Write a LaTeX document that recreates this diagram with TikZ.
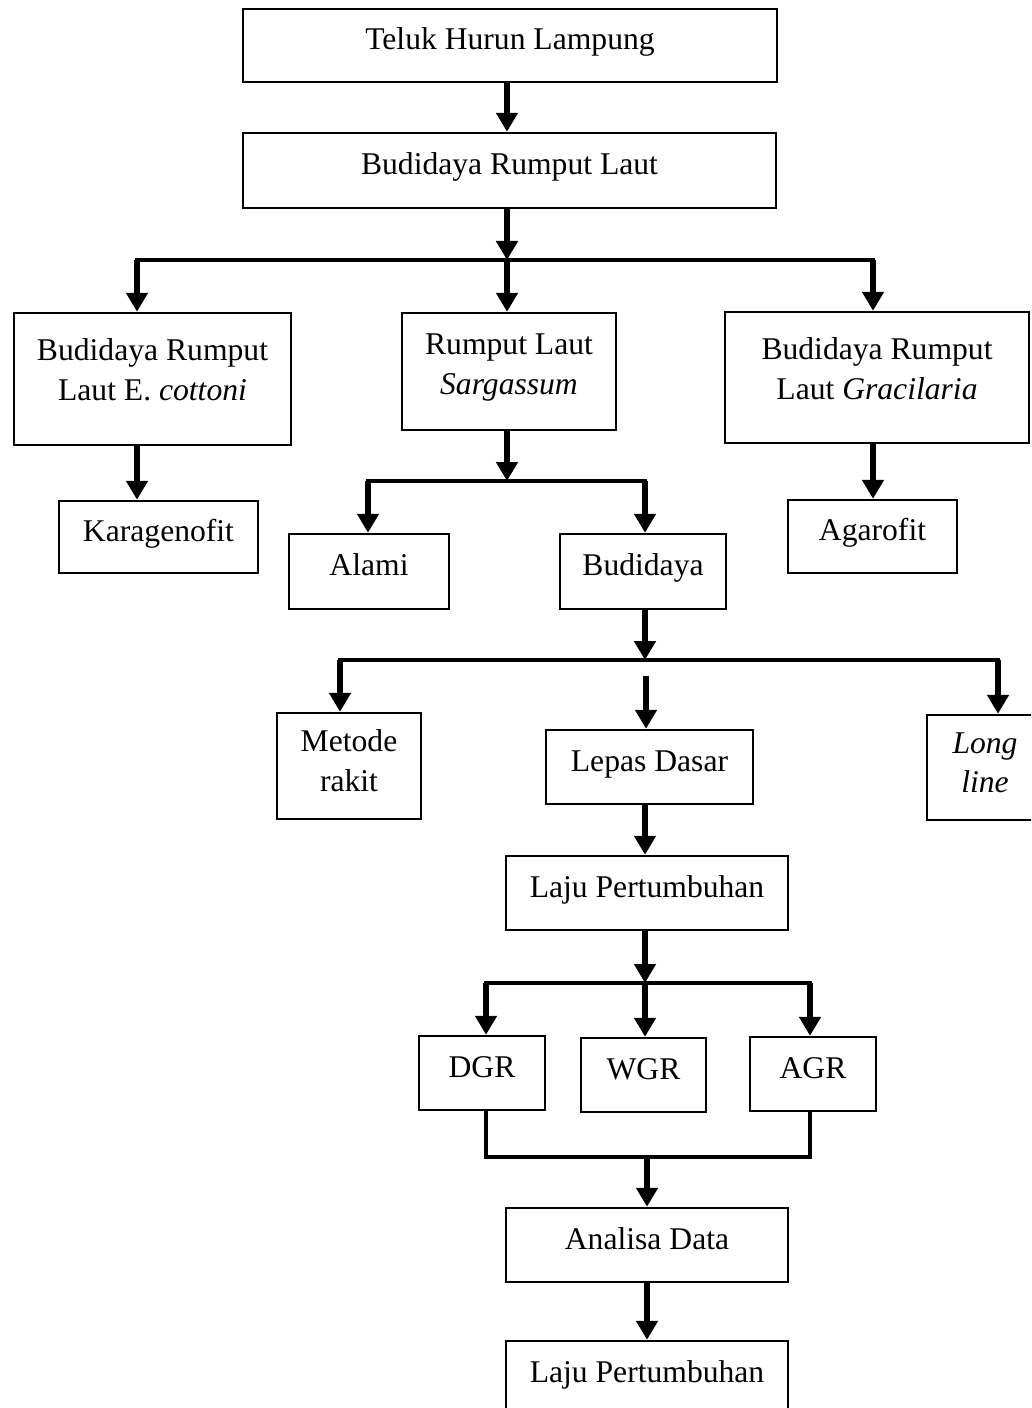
\documentclass[tikz,border=0pt]{standalone}
\usepackage{fontspec}
\setmainfont{Liberation Serif}
\usetikzlibrary{arrows.meta}
\tikzset{
  kotak/.style={draw, line width=1.4pt, align=center, inner sep=0pt, text height=0.7em, text depth=0.44em},
  dua/.style={text height=1.96em, text depth=#1},
  dua/.default=0.6em,
  panah/.style={line width=3.6pt, -{Triangle[width=0.42cm,length=0.38cm]}},
  garis/.style={line width=2.3pt, line cap=rect},
  gabung/.style={line width=1.8pt, line cap=rect, line join=miter},
}
\begin{document}
\begin{tikzpicture}[x=0.02cm,y=-0.02cm]
\fontsize{18}{22.7}\selectfont
\useasboundingbox (0,0) rectangle (1031,1408);
\clip (0,0) rectangle (1031,1408);
% kotak
\node[kotak,minimum width=10.68cm,minimum height=1.46cm] (teluk) at (510,45.5) {Teluk Hurun Lampung};
\node[kotak,minimum width=10.66cm,minimum height=1.5cm] (budi) at (509.5,170.5) {Budidaya Rumput Laut};
\node[kotak,dua,minimum width=5.54cm,minimum height=2.64cm] (cottoni) at (152.5,379) {Budidaya Rumput\\Laut E. \textit{cottoni}};
\node[kotak,dua=0.5em,minimum width=4.28cm,minimum height=2.34cm] (sarg) at (509,371.5) {Rumput Laut\\\textit{Sargassum}};
\node[kotak,dua,minimum width=6.08cm,minimum height=2.62cm] (graci) at (877,377.5) {Budidaya Rumput\\Laut \textit{Gracilaria}};
\node[kotak,minimum width=3.98cm,minimum height=1.44cm] (karag) at (158.5,537) {Karagenofit};
\node[kotak,minimum width=3.2cm,minimum height=1.5cm] (alami) at (369,571.5) {Alami};
\node[kotak,minimum width=3.32cm,minimum height=1.5cm] (budid) at (643,571.5) {Budidaya};
\node[kotak,minimum width=3.38cm,minimum height=1.46cm] (agaro) at (872.5,536.5) {Agarofit};
\node[kotak,dua=0.35em,minimum width=2.88cm,minimum height=2.12cm] (metode) at (349,766) {Metode\\rakit};
\node[kotak,minimum width=4.14cm,minimum height=1.48cm] (lepas) at (649.5,767) {Lepas Dasar};
\node[kotak,dua=0.35em,minimum width=2.32cm,minimum height=2.1cm] (longl) at (985,767.5) {\textit{Long}\\\textit{line}};
\node[kotak,minimum width=5.64cm,minimum height=1.48cm] (laju) at (647,893) {Laju Pertumbuhan};
\node[kotak,minimum width=2.52cm,minimum height=1.48cm] (dgr) at (482,1073) {DGR};
\node[kotak,minimum width=2.5cm,minimum height=1.48cm] (wgr) at (643.5,1075) {WGR};
\node[kotak,minimum width=2.52cm,minimum height=1.48cm] (agr) at (813,1074) {AGR};
\node[kotak,minimum width=5.64cm,minimum height=1.48cm] (analisa) at (647,1245) {Analisa Data};
\node[kotak,minimum width=5.64cm,minimum height=1.48cm] (laju2) at (647,1378) {Laju Pertumbuhan};
% titik cabang
\coordinate (c1) at (507,260);
\coordinate (b1l) at (137,260);
\coordinate (b1r) at (873,260);
\coordinate (c2) at (507,481);
\coordinate (b2l) at (368,481);
\coordinate (b2r) at (645,481);
\coordinate (c3) at (645,660);
\coordinate (b3l) at (340,660);
\coordinate (b3r) at (998,660);
\coordinate (g3) at (646,676);
\coordinate (c4) at (645,983);
\coordinate (b4l) at (486,983);
\coordinate (b4r) at (810,983);
\coordinate (j1) at (486,1157);
\coordinate (j2) at (810,1157);
\coordinate (c5) at (647,1157);
% panah
\draw[panah] (teluk.south -| c1) -- (c1 |- budi.north);
\draw[panah] (budi.south -| c1) -- (c1);
\draw[garis] (b1l) -- (b1r);
\foreach \b/\n in {b1l/cottoni, c1/sarg, b1r/graci} \draw[panah] (\b) -- (\b |- \n.north);
\draw[panah] (cottoni.south -| b1l) -- (b1l |- karag.north);
\draw[panah] (graci.south -| b1r) -- (b1r |- agaro.north);
\draw[panah] (sarg.south -| c2) -- (c2);
\draw[garis] (b2l) -- (b2r);
\foreach \b/\n in {b2l/alami, b2r/budid} \draw[panah] (\b) -- (\b |- \n.north);
\draw[panah] (budid.south -| c3) -- (c3);
\draw[garis] (b3l) -- (b3r);
\foreach \b/\n in {b3l/metode, g3/lepas, b3r/longl} \draw[panah] (\b) -- (\b |- \n.north);
\draw[panah] (lepas.south -| c3) -- (c3 |- laju.north);
\draw[panah] (laju.south -| c4) -- (c4);
\draw[garis] (b4l) -- (b4r);
\foreach \b/\n in {b4l/dgr, c4/wgr, b4r/agr} \draw[panah] (\b) -- (\b |- \n.north);
\draw[gabung] (dgr.south -| j1) -- (j1) -- (j2) -- (agr.south -| j2);
\draw[panah] (c5) -- (c5 |- analisa.north);
\draw[panah] (analisa.south -| c5) -- (c5 |- laju2.north);
\end{tikzpicture}
\end{document}
